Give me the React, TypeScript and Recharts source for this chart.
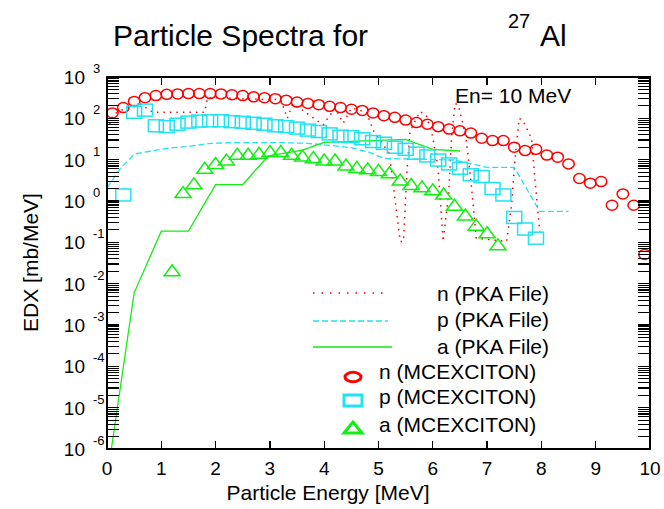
import React from 'react';
import { ComposedChart, Line, Scatter, XAxis, YAxis } from 'recharts';

// ---- MCEXCITON (markers) ----
const nMcEnergy = [0.1, 0.3, 0.5, 0.7, 0.9, 1.1, 1.3, 1.5, 1.7, 1.9, 2.1, 2.3, 2.5, 2.7, 2.9, 3.1, 3.3, 3.5, 3.7, 3.9, 4.1, 4.3, 4.5, 4.7, 4.9, 5.1, 5.3, 5.5, 5.7, 5.9, 6.1, 6.3, 6.5, 6.7, 6.9, 7.1, 7.3, 7.5, 7.7, 7.9, 8.1, 8.3, 8.5, 8.7, 8.9, 9.1, 9.3, 9.5, 9.7, 9.9];
const nMcEdx = [135, 182, 257, 316, 355, 380, 389, 398, 398, 398, 389, 372, 355, 331, 316, 299, 275, 248, 229, 214, 195, 182, 166, 155, 135, 116, 106, 91, 79, 72, 63, 55, 50, 44, 33, 29, 29, 20, 16.6, 17.8, 12.9, 11.5, 7.9, 3.5, 2.7, 2.95, 0.79, 1.48, 0.79, 0.051];

const pMcEnergy = [0.3, 0.5, 0.7, 0.9, 1.1, 1.3, 1.5, 1.7, 1.9, 2.1, 2.3, 2.5, 2.7, 2.9, 3.1, 3.3, 3.5, 3.7, 3.9, 4.1, 4.3, 4.5, 4.7, 4.9, 5.1, 5.3, 5.5, 5.7, 5.9, 6.1, 6.3, 6.5, 6.7, 6.9, 7.1, 7.3, 7.5, 7.7, 7.9];
const pMcEdx = [1.4, 140, 158, 66, 63, 72, 81, 86, 87, 87, 83, 80, 76, 72, 66, 63, 58, 52, 48, 42, 37, 36, 32, 27.5, 25, 20, 17.8, 14.3, 12.3, 9.8, 7.9, 6.2, 4.3, 3.9, 2.0, 1.4, 0.4, 0.21, 0.126];

const aMcEnergy = [1.2, 1.4, 1.6, 1.8, 2.0, 2.2, 2.4, 2.6, 2.8, 3.0, 3.2, 3.4, 3.6, 3.8, 4.0, 4.2, 4.4, 4.6, 4.8, 5.0, 5.2, 5.4, 5.6, 5.8, 6.0, 6.2, 6.4, 6.6, 6.8, 7.0, 7.2];
const aMcEdx = [0.0205, 1.6, 2.6, 6.2, 8.1, 9.8, 13.5, 13.5, 14.3, 15.7, 15.7, 13.5, 12.3, 11.2, 9.8, 9.8, 7.4, 6.5, 6.0, 5.5, 4.8, 3.2, 2.5, 2.2, 1.86, 1.48, 0.79, 0.46, 0.26, 0.17, 0.087];

// ---- PKA File (lines) ----
const nPkaEnergy = [0.0, 0.12, 0.35, 0.6, 0.85, 1.8, 1.85, 3.2, 3.32, 3.42, 3.6, 3.98, 4.2, 4.35, 4.5, 4.78, 4.9, 5.2, 5.4, 5.46, 5.52, 5.58, 5.76, 5.88, 6.0, 6.1, 6.19, 6.29, 6.35, 6.41, 6.47, 6.55, 6.62, 6.7, 6.8, 7.36, 7.45, 7.51, 7.59, 7.66, 7.82, 7.88, 7.97];
const nPkaEdx = [52, 126, 178, 224, 140, 140, 316, 282, 100, 224, 158, 69, 178, 76, 178, 141, 52, 14, 0.105, 0.105, 4.3, 48, 145, 120, 35, 5.6, 0.105, 1.4, 40, 229, 209, 79, 27, 3.2, 0.126, 0.105, 0.79, 8.9, 100, 89, 32, 3.5, 0.18];

const pPkaEnergy = [0.0, 0.25, 0.5, 0.8, 1.2, 1.5, 1.9, 2.3, 3.3, 3.7, 4.05, 4.5, 4.85, 5.1, 6.4, 7.0, 7.5, 7.97, 8.5];
const pPkaEdx = [2.1, 6.2, 13.5, 16.2, 19.5, 20.9, 24.8, 25.7, 25.7, 24.8, 22.6, 19.5, 14.8, 10.7, 9.8, 6.5, 6.5, 0.56, 0.56];

const aPkaEnergy = [0.08, 0.5, 1.0, 1.5, 2.0, 2.5, 2.97, 3.6, 4.0, 5.5, 6.0, 6.5];
const aPkaEdx = [1e-6, 0.006, 0.186, 0.186, 2.5, 2.5, 12.3, 17, 26.3, 30.9, 17.8, 16.2];

// ---- axes ----
const xTicks = [0, 1, 2, 3, 4, 5, 6, 7, 8, 9, 10];
const xInnerTicks = [1, 2, 3, 4, 5, 6, 7, 8, 9];
const yDecades = [-6, -5, -4, -3, -2, -1, 0, 1, 2, 3];
const yMinorMult = [2, 3, 4, 5, 6, 7, 8, 9];
const yTicks: number[] = [];
yDecades.forEach((d) => {
  yTicks.push(Math.pow(10, d));
  if (d < 3) yMinorMult.forEach((m) => yTicks.push(Number((m * Math.pow(10, d)).toPrecision(3))));
});
const X_MIN = 0;
const X_MAX = 10;
const LOG_MIN = -6;
const LOG_MAX = 3;

const toPts = (xs: number[], ys: number[]) => xs.map((x, i) => ({ x, y: ys[i] }));

const RED = '#ff0000';
const CYAN = '#1ee3f2';
const GREEN = '#11ee11';
const FONT = '"Liberation Sans", Arial, sans-serif';

const W = 664;
const H = 509;
const MARGIN = { top: 77, right: 14, bottom: 20, left: 47 };
const Y_AXIS_W = 60;
const X_AXIS_H = 40;
const PL = MARGIN.left + Y_AXIS_W;
const PR = W - MARGIN.right;
const PT = MARGIN.top;
const PB = H - MARGIN.bottom - X_AXIS_H;

const isMajor = (v: number) => {
  const l = Math.log10(v);
  return Math.abs(l - Math.round(l)) < 1e-6;
};

const leftTick = (p: any) => {
  const v = p.payload.value;
  if (!isMajor(v)) return <g />;
  const e = Math.round(Math.log10(v));
  return (
    <g>
      <text x={p.x - 22} y={p.y + 7} textAnchor="end" fontSize={19} fontFamily={FONT} fill="#000">
        10
      </text>
      <text x={p.x - 14} y={p.y - 4} textAnchor="start" fontSize={13} fontFamily={FONT} fill="#000">
        {e}
      </text>
    </g>
  );
};

const bottomTick = (p: any) => (
  <g>
    <text x={p.x} y={p.y + 26} textAnchor="middle" fontSize={19} fontFamily={FONT} fill="#000">
      {p.payload.value}
    </text>
  </g>
);

const CircleShape = (p: any) => (
  <ellipse cx={p.cx} cy={p.cy} rx={5.7} ry={5} fill="none" stroke={RED} strokeWidth={1.5} />
);
const SquareShape = (p: any) => (
  <rect x={p.cx - 7.5} y={p.cy - 6} width={15} height={12} fill="none" stroke={CYAN} strokeWidth={1.5} />
);
const TriangleShape = (p: any) => (
  <polygon
    points={`${p.cx},${p.cy - 6} ${p.cx - 8},${p.cy + 5} ${p.cx + 8},${p.cy + 5}`}
    fill="none"
    stroke={GREEN}
    strokeWidth={1.5}
  />
);

const tickX = (v: number) => PL + ((v - X_MIN) / (X_MAX - X_MIN)) * (PR - PL);
const tickY = (v: number) => PT + ((LOG_MAX - Math.log10(v)) / (LOG_MAX - LOG_MIN)) * (PB - PT);

const T = ({ x, base, fs, children, style }: any) => (
  <div
    style={{
      position: 'absolute',
      left: x,
      top: base - 0.8465 * fs,
      fontSize: fs,
      lineHeight: `${fs}px`,
      fontFamily: FONT,
      whiteSpace: 'nowrap',
      color: '#000',
      ...style,
    }}
  >
    {children}
  </div>
);

const Bar = ({ left, top, width, height }: any) => (
  <div style={{ position: 'absolute', left, top, width, height, background: '#000' }} />
);

export default function App() {
  return (
    <div style={{ position: 'relative', width: W, height: H }}>
      <style>{'html,body{margin:0;padding:0;overflow:hidden;background:#fff;}'}</style>
      <ComposedChart width={W} height={H} margin={MARGIN}>
        <XAxis
          type="number"
          dataKey="x"
          domain={[X_MIN, X_MAX]}
          ticks={xTicks}
          interval={0}
          height={X_AXIS_H}
          tickSize={0}
          tickMargin={0}
          tickLine={false}
          tick={bottomTick}
          axisLine={{ stroke: '#000', strokeWidth: 1.6 }}
        />
        <YAxis
          type="number"
          dataKey="y"
          scale="log"
          domain={[1e-6, 1000]}
          ticks={yTicks}
          interval={0}
          width={Y_AXIS_W}
          tickSize={0}
          tickMargin={0}
          tickLine={false}
          tick={leftTick}
          axisLine={{ stroke: '#000', strokeWidth: 1.6 }}
        />
        <Line
          data={toPts(nPkaEnergy, nPkaEdx)}
          dataKey="y"
          type="linear"
          stroke={RED}
          strokeWidth={1.5}
          strokeDasharray="1.5 5"
          dot={false}
          activeDot={false}
          isAnimationActive={false}
        />
        <Line
          data={toPts(pPkaEnergy, pPkaEdx)}
          dataKey="y"
          type="linear"
          stroke={CYAN}
          strokeWidth={1.3}
          strokeDasharray="6 3"
          dot={false}
          activeDot={false}
          isAnimationActive={false}
        />
        <Line
          data={toPts(aPkaEnergy, aPkaEdx)}
          dataKey="y"
          type="linear"
          stroke={GREEN}
          strokeWidth={1.3}
          dot={false}
          activeDot={false}
          isAnimationActive={false}
        />
        <Scatter data={toPts(nMcEnergy, nMcEdx)} dataKey="y" shape={<CircleShape />} isAnimationActive={false} />
        <Scatter data={toPts(pMcEnergy, pMcEdx)} dataKey="y" shape={<SquareShape />} isAnimationActive={false} />
        <Scatter data={toPts(aMcEnergy, aMcEdx)} dataKey="y" shape={<TriangleShape />} isAnimationActive={false} />
      </ComposedChart>

      {/* plot frame and inward ticks on all four sides (HTML boxes) */}
      <div
        style={{
          position: 'absolute',
          left: PL - 1,
          top: PT - 1,
          width: PR - PL + 2,
          height: PB - PT + 2,
          border: '2px solid #000',
          boxSizing: 'border-box',
          pointerEvents: 'none',
        }}
      />
      {yTicks.map((v) => (
        <React.Fragment key={'y' + v}>
          <Bar left={PL} top={tickY(v) - 0.6} width={12} height={1.2} />
          <Bar left={PR - 12} top={tickY(v) - 0.6} width={12} height={1.2} />
        </React.Fragment>
      ))}
      {xInnerTicks.map((v) => (
        <React.Fragment key={'x' + v}>
          <Bar left={tickX(v) - 0.65} top={PB - 8} width={1.3} height={8} />
          <Bar left={tickX(v) - 0.65} top={PT} width={1.3} height={8} />
        </React.Fragment>
      ))}

      {/* legend samples */}
      <svg width={W} height={H} style={{ position: 'absolute', left: 0, top: 0, pointerEvents: 'none' }}>
        <line x1={313} y1={293} x2={385} y2={293} stroke={RED} strokeWidth={1.5} strokeDasharray="1.5 7" />
        <line x1={313} y1={321} x2={388} y2={321} stroke={CYAN} strokeWidth={1.3} strokeDasharray="6 3" />
        <line x1={313} y1={347} x2={392} y2={347} stroke={GREEN} strokeWidth={1.3} />
        <ellipse cx={353} cy={377} rx={8} ry={4.7} fill="none" stroke={RED} strokeWidth={3} />
        <rect x={344} y={395} width={18} height={11} fill="none" stroke={CYAN} strokeWidth={3} />
        <polygon points="353,422 344,433 362,433" fill="none" stroke={GREEN} strokeWidth={3} />
      </svg>

      <T x={113} base={46} fs={30}>Particle Spectra for</T>
      <T x={508} base={28} fs={20}>27</T>
      <T x={540} base={46} fs={30}>Al</T>
      <T x={455} base={103} fs={21}>En= 10 MeV</T>
      <T x={128} base={500} fs={21} style={{ width: 400, textAlign: 'center' }}>Particle Energy [MeV]</T>
      <div
        style={{
          position: 'absolute',
          left: -70,
          top: 251.5,
          width: 200,
          textAlign: 'center',
          fontSize: 21,
          lineHeight: '21px',
          fontFamily: FONT,
          whiteSpace: 'nowrap',
          transform: 'rotate(-90deg)',
          transformOrigin: '100px 10.5px',
        }}
      >
        EDX [mb/MeV]
      </div>

      <T x={437} base={301} fs={21}>n (PKA File)</T>
      <T x={437} base={327} fs={21}>p (PKA File)</T>
      <T x={437} base={354} fs={21}>a (PKA File)</T>
      <T x={379} base={379} fs={21}>n (MCEXCITON)</T>
      <T x={379} base={404} fs={21}>p (MCEXCITON)</T>
      <T x={379} base={432} fs={21}>a (MCEXCITON)</T>
    </div>
  );
}
